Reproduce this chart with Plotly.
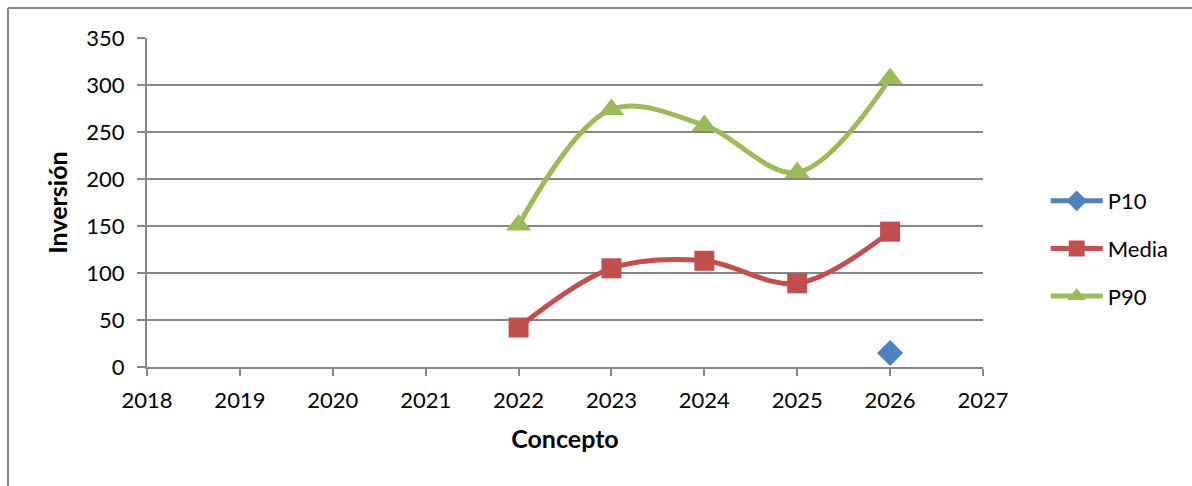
import plotly.graph_objects as go

years = [2018, 2019, 2020, 2021, 2022, 2023, 2024, 2025, 2026]
p10 = [None, None, None, None, None, None, None, None, 15]
media = [None, None, None, None, 42, 105, 113, 89, 144]
p90 = [None, None, None, None, 151, 274, 257, 207, 307]

FONT = "Lato"
GRID = "#878787"

fig = go.Figure()
fig.add_trace(go.Scatter(x=years, y=p10, name="P10", mode="lines+markers", line=dict(color="#4F81BD", width=5, shape="spline"),
                         marker=dict(symbol="diamond", size=20, color="#4F81BD"), legendgroup="a"))
fig.add_trace(go.Scatter(x=years, y=media, name="Media", mode="lines+markers", line=dict(color="#C0504D", width=5, shape="spline"),
                         marker=dict(symbol="square", size=20, color="#C0504D"), legendgroup="b"))
fig.add_trace(go.Scatter(x=years, y=p90, name="P90", mode="lines+markers", line=dict(color="#9BBB59", width=5, shape="spline"),
                         marker=dict(symbol="triangle-up", size=22, color="#9BBB59"), legendgroup="c"))

fig.update_layout(
    width=1192, height=486,
    margin=dict(l=147, r=209, t=38, b=119),
    paper_bgcolor="white", plot_bgcolor="white",
    font=dict(family=FONT, size=22, color="black"),
    showlegend=True,
    legend=dict(x=1.075, y=0.36, xanchor="left", yanchor="middle", tracegroupgap=16, itemwidth=52,
                font=dict(family=FONT, size=22), bgcolor="rgba(0,0,0,0)"),
    xaxis=dict(range=[2018, 2027], dtick=1, tick0=2018, showgrid=False, zeroline=False,
               showline=True, linecolor=GRID, linewidth=2, ticks="outside", ticklen=7, tickwidth=2,
               tickcolor=GRID, ticklabelstandoff=6,
               title=dict(text="<b>Concepto</b>", font=dict(family=FONT, size=25), standoff=18)),
    yaxis=dict(range=[0, 350], dtick=50, showgrid=True, gridcolor=GRID, gridwidth=2, zeroline=False,
               showline=True, linecolor=GRID, linewidth=2, ticks="outside", ticklen=8, tickwidth=2,
               tickcolor=GRID, ticklabelstandoff=8,
               title=dict(text="<b>Inversión</b>", font=dict(family=FONT, size=25), standoff=12)),
)

# outer chart-area border
fig.add_shape(type="line", xref="paper", yref="paper", x0=(8 - 147) / 836, x1=(1192 - 147) / 836,
              y0=(367 - 8) / 329, y1=(367 - 8) / 329, line=dict(color=GRID, width=2))
fig.add_shape(type="line", xref="paper", yref="paper", x0=(8 - 147) / 836, x1=(8 - 147) / 836,
              y0=(367 - 8) / 329, y1=(367 - 490) / 329, line=dict(color=GRID, width=2))

fig.write_html("out.html")
